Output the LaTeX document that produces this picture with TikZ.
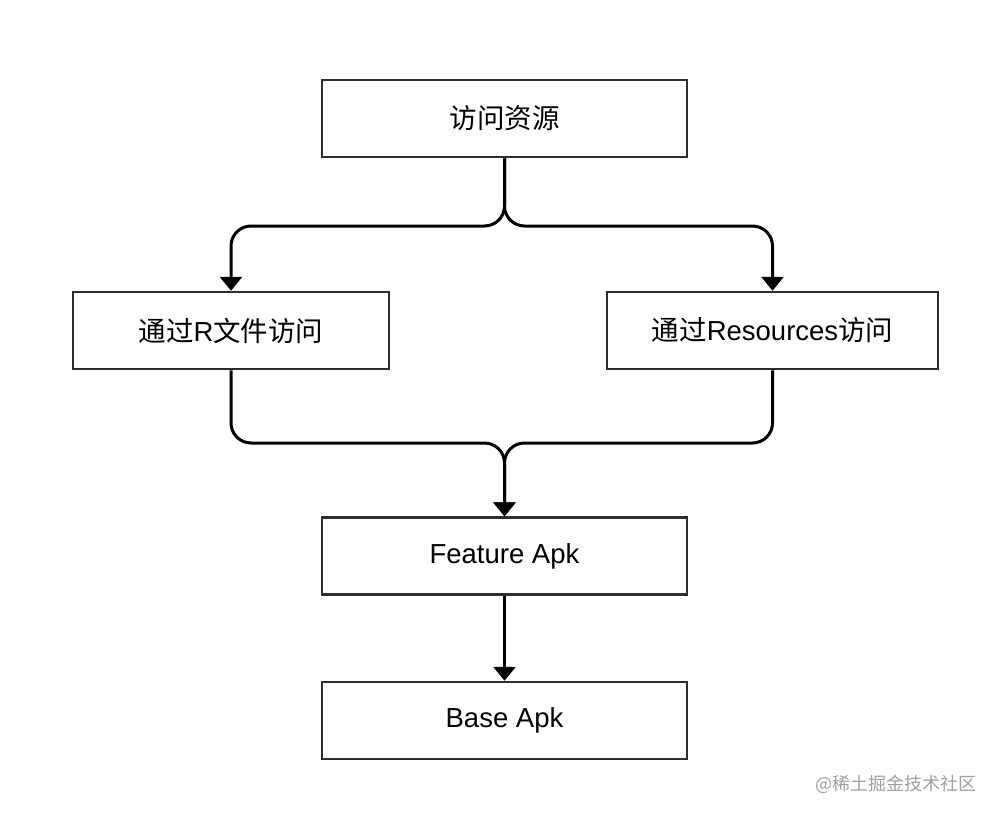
\documentclass[tikz,border=0pt]{standalone}
\usepackage{fontspec}
\setmainfont{Liberation Sans}
\newfontfamily\cjk{Noto Sans CJK SC}
\usetikzlibrary{arrows.meta,positioning}
\definecolor{boxline}{RGB}{45,45,45}
\definecolor{marktext}{RGB}{160,160,160}

\begin{document}
\begin{tikzpicture}[
    x=1pt, y=-1pt,
    node distance=85pt,
    flowbox/.style={rectangle, draw=boxline, line width=2.5pt, fill=white,
                 minimum width=365pt, minimum height=77pt, align=center,
                 font=\fontsize{27.5}{32}\selectfont, inner sep=0pt},
    arr/.style={-{Triangle[width=22pt,length=14pt]}, line width=3pt, black, rounded corners=20pt}
]
\useasboundingbox (0,0) rectangle (1000,816);
\node[flowbox] (access) at (504.5,118.5) {{\cjk 访问资源}};
\node[flowbox, minimum width=316pt] (byR) at (231,330.5) {{\cjk 通过}R{\cjk 文件访问}};
\node[flowbox, minimum width=331pt] (byRes) at (772.5,330.5) {{\cjk 通过}Resources{\cjk 访问}};
\node[flowbox] (feature) at (504.5,556) {Feature Apk};
\node[flowbox, below=of feature] (base) {Base Apk};
\coordinate (split) at (504.5,226);
\coordinate (merge) at (504.5,443);
% fan out from the top box
\draw[arr] (access.south) -- (split) -| (byR.north);
\draw[arr] (access.south) -- (split) -| (byRes.north);
% gather into the feature apk
\draw[arr] (byR.south) |- (merge) -- (feature.north);
\draw[arr] (byRes.south) |- (merge) -- (feature.north);
\draw[arr] (feature) -- (base);
\node[font=\fontsize{18}{22}\selectfont\cjk, text=marktext] (mark) at (896,784) {@稀土掘金技术社区};
\end{tikzpicture}
\end{document}
